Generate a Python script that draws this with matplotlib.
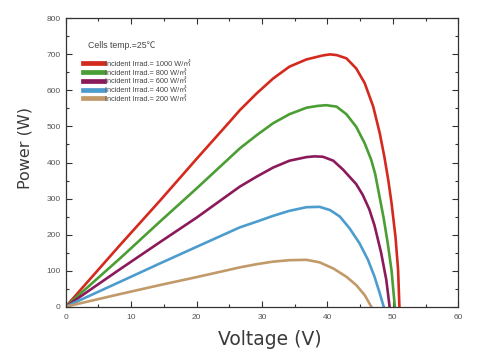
import matplotlib
matplotlib.use("Agg")
import matplotlib.pyplot as plt
from matplotlib.ticker import MultipleLocator

# P-V curves (voltage in V, power in W)
v_1000 = [0, 8.3, 14.4, 20, 25.3, 26.6, 29.2, 31.7, 34.2, 36.8, 39.3, 40.4, 41.4, 42.9,
          44.4, 45.7, 47.0, 48.0, 48.7, 49.3, 49.8, 50.4, 50.8, 51.0]
p_1000 = [0, 171, 294, 410, 518, 545, 592, 633, 666, 686, 697, 700, 698, 689,
          661, 620, 555, 481, 416, 351, 287, 194, 102, 0]

v_800 = [0, 8.3, 14.4, 20, 26.6, 29.2, 31.7, 34.2, 36.8, 38.5, 39.8, 41.4, 42.9,
         44.4, 45.7, 46.7, 47.3, 48.0, 48.6, 49.2, 49.8, 50.3]
p_800 = [0, 134, 236, 328, 439, 476, 509, 534, 552, 557, 559, 555, 534,
         499, 453, 407, 368, 302, 245, 178, 100, 0]

v_600 = [0, 8.3, 14.4, 20, 26.6, 29.2, 31.7, 34.2, 36.8, 38.0, 39.3, 40.9, 42.4,
         44.4, 45.4, 46.4, 47.2, 48.2, 49.0, 49.5]
p_600 = [0, 104, 179, 247, 333, 361, 386, 405, 415, 417, 416, 405, 380,
         340, 310, 270, 225, 150, 74, 0]

v_400 = [0, 8.3, 14.4, 20, 26.6, 29.2, 31.7, 34.2, 36.8, 38.8, 40.4, 41.9, 43.4,
         44.9, 46.2, 47.2, 48.0, 48.6]
p_400 = [0, 69, 120, 166, 220, 236, 252, 266, 276, 277, 268, 250, 217,
         176, 130, 83, 37, 0]

v_200 = [0, 8.3, 14.4, 20, 26.6, 29.2, 31.7, 34.2, 36.8, 38.8, 40.9, 42.9, 44.4,
         45.7, 46.7]
p_200 = [0, 35, 60, 82, 109, 118, 125, 129, 130, 123, 106, 83, 60, 32, 0]

labels = ["Incident Irrad.= 1000 W/㎡", "Incident Irrad.= 800 W/㎡",
          "Incident Irrad.= 600 W/㎡", "Incident Irrad.= 400 W/㎡",
          "Incident Irrad.= 200 W/㎡"]
colors = ["#d42a1e", "#4a9e34", "#8b1a5a", "#4d9cce", "#c29a6a"]

fig = plt.figure(figsize=(4.93, 3.62), dpi=100)
ax = fig.add_axes([0.1333, 0.1528, 0.7963, 0.7966])

series = [(v_1000, p_1000), (v_800, p_800), (v_600, p_600), (v_400, p_400), (v_200, p_200)]
for (v, p), lab, c in zip(series, labels, colors):
    ax.plot(v, p, color=c, lw=1.9, label=lab, solid_joinstyle="round")

ax.set_xlim(0, 60)
ax.set_ylim(0, 800)
ax.xaxis.set_major_locator(MultipleLocator(10))
ax.xaxis.set_minor_locator(MultipleLocator(5))
ax.yaxis.set_major_locator(MultipleLocator(100))
ax.yaxis.set_minor_locator(MultipleLocator(50))
ax.tick_params(which="both", direction="in", top=True, right=True, color="#333333",
               width=0.8, labelsize=6, labelcolor="#555555",
               labelfontfamily="Liberation Sans")
ax.tick_params(which="major", length=4.5)
ax.tick_params(which="minor", length=2.5)
ax.tick_params(axis="x", pad=5)
for s in ax.spines.values():
    s.set_color("#333333")
    s.set_linewidth(0.9)

ax.set_xlabel("Voltage (V)", fontsize=13.5, color="#3a3a3a")
ax.set_ylabel("Power (W)", fontsize=11.5, color="#3a3a3a")
ax.xaxis.set_label_coords(0.52, -0.08)
ax.yaxis.set_label_coords(-0.085, 0.549)

fam = ["Liberation Sans", "Noto Sans CJK SC", "DejaVu Sans"]
ax.text(0.058, 0.905, "Cells temp.=25℃", transform=ax.transAxes, fontsize=6.3,
        color="#444444", family=fam, va="center")
leg = ax.legend(loc="upper left", bbox_to_anchor=(0.044, 0.853), frameon=False,
                handlelength=2.8, handletextpad=0.15,
                labelspacing=0.22, borderaxespad=0, borderpad=0,
                prop={"family": fam, "size": 5.3})
for t in leg.get_texts():
    t.set_color("#444444")
for h in leg.legend_handles:
    h.set_linewidth(3.4)

fig.savefig("out.png", dpi=100)
